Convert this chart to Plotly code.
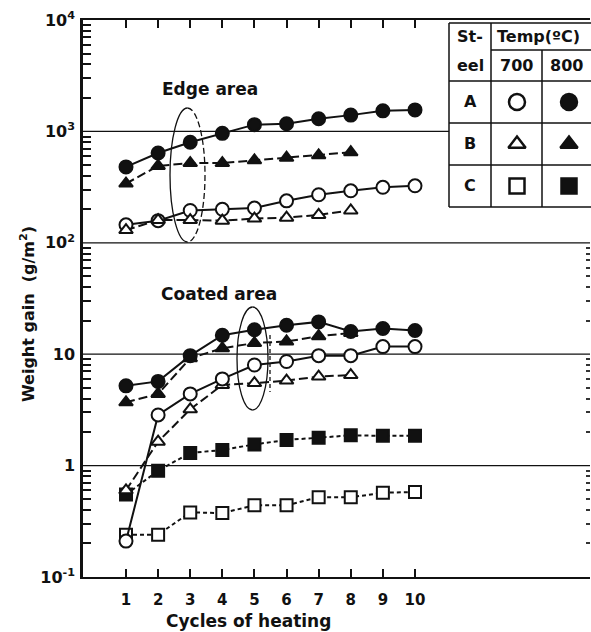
import plotly.graph_objects as go

# ---------------- data ----------------
cycles = list(range(1, 11))
cycles8 = list(range(1, 9))

edge_A700 = [145, 158, 195, 200, 205, 238, 270, 293, 315, 325]
edge_A800 = [480, 640, 800, 960, 1150, 1170, 1300, 1400, 1530, 1560]
edge_B700 = [130, 160, 160, 158, 165, 168, 178, 195]
edge_B800 = [340, 490, 520, 520, 550, 580, 610, 650]

coat_A700 = [0.21, 2.85, 4.4, 6.0, 8.0, 8.6, 9.7, 9.7, 11.7, 11.7]
coat_A800 = [5.2, 5.7, 9.7, 14.8, 16.6, 18.2, 19.5, 16.0, 17.0, 16.3]
coat_B700 = [0.6, 1.64, 3.2, 5.3, 5.5, 5.8, 6.3, 6.5]
coat_B800 = [3.7, 4.4, 9.2, 11.3, 12.6, 13.0, 14.5, 15.5]
coat_C700 = [0.24, 0.24, 0.38, 0.375, 0.44, 0.44, 0.52, 0.52, 0.57, 0.58]
coat_C800 = [0.55, 0.9, 1.3, 1.38, 1.55, 1.7, 1.78, 1.87, 1.85, 1.85]

y_tickvals = [0.1, 1, 10, 100, 1000, 10000]
y_ticktext = ["10<sup>-1</sup>", "1", "10", "10<sup>2</sup>", "10<sup>3</sup>", "10<sup>4</sup>"]
grid_vals = [1, 10, 100, 1000]
x_tickvals = cycles

steel_labels = ["A", "B", "C"]
temp_labels = ["700", "800"]

FONT = "DejaVu Sans"
BLACK = "#111111"

# plot area in pixels (for decorative overlay)
L, R, T, B = 83, 590, 20, 577
XR = [-0.339, 15.45]
YR = [-1, 4]

style = {"A": "solid", "B": "9px,4px", "C": "4px,3px"}
sym = {
    ("A", "700"): "circle", ("A", "800"): "circle",
    ("B", "700"): "triangle-up", ("B", "800"): "triangle-up",
    ("C", "700"): "square", ("C", "800"): "square",
}

series = [
    ("A", "700", cycles, edge_A700), ("A", "800", cycles, edge_A800),
    ("B", "700", cycles8, edge_B700), ("B", "800", cycles8, edge_B800),
    ("C", "800", cycles, coat_C800), ("C", "700", cycles, coat_C700),
    ("B", "700", cycles8, coat_B700), ("A", "700", cycles, coat_A700),
    ("B", "800", cycles8, coat_B800), ("A", "800", cycles, coat_A800),
]

fig = go.Figure()
for steel, temp, xs, ys in series:
    s = sym[(steel, temp)]
    fig.add_trace(go.Scatter(
        x=xs, y=ys, mode="lines+markers",
        line=dict(color=BLACK, width=2, dash=style[steel]),
        marker=dict(symbol=s, size=13 if s == "circle" else 12,
                    color="white" if temp == "700" else BLACK,
                    line=dict(color=BLACK, width=2)),
        showlegend=False, hoverinfo="skip",
    ))

# ---------------- legend table (pixel overlay axes) ----------------
row_y = [102, 144, 186]
col_x = [517, 569]
for i, steel in enumerate(steel_labels):
    for j, temp in enumerate(temp_labels):
        s = sym[(steel, temp)]
        fig.add_trace(go.Scatter(
            x=[col_x[j]], y=[row_y[i]], xaxis="x2", yaxis="y2", mode="markers",
            marker=dict(symbol=s, size=16 if s == "circle" else 15,
                        color="white" if temp == "700" else BLACK,
                        line=dict(color=BLACK, width=2.5)),
            showlegend=False, hoverinfo="skip"))

def px2p(px):
    return (px - L) / (R - L)

def py2p(py):
    return (B - py) / (B - T)

shapes = []
def ln(x0, y0, x1, y1, w=1.5, dash="solid"):
    shapes.append(dict(type="line", xref="paper", yref="paper",
                       x0=px2p(x0), y0=py2p(y0), x1=px2p(x1), y1=py2p(y1),
                       line=dict(color=BLACK, width=w, dash=dash), layer="above"))

# decade grid lines (the 10^3 one stops at the legend table)
TABLE_LEFT = 449
for v in grid_vals:
    x1 = px2p(TABLE_LEFT) if v == 1000 else 1.0
    shapes.append(dict(type="line", xref="paper", yref="y", x0=0, x1=x1,
                       y0=v, y1=v, line=dict(color=BLACK, width=1.2), layer="below"))

ln(449, 23, 600, 23)
ln(449, 23, 449, 207)
ln(449, 207, 600, 207)
ln(491, 23, 491, 207)
ln(542, 50, 542, 207)
ln(491, 50, 600, 50)
for yy in (81, 123, 165):
    ln(449, yy, 600, yy)

def half(cx, cy, rx, ry, side):
    k = 0.5523
    s = -1 if side == "left" else 1
    pts = [(cx, cy - ry), (cx + s * k * rx, cy - ry), (cx + s * rx, cy - k * ry), (cx + s * rx, cy),
           (cx + s * rx, cy + k * ry), (cx + s * k * rx, cy + ry), (cx, cy + ry)]
    p = [(px2p(a), py2p(b)) for a, b in pts]
    return (f"M {p[0][0]},{p[0][1]} C {p[1][0]},{p[1][1]} {p[2][0]},{p[2][1]} {p[3][0]},{p[3][1]} "
            f"C {p[4][0]},{p[4][1]} {p[5][0]},{p[5][1]} {p[6][0]},{p[6][1]}")

def ell(cx, cy, rx, ry, right_dash):
    shapes.append(dict(type="path", xref="paper", yref="paper", path=half(cx, cy, rx, ry, "left"),
                       line=dict(color=BLACK, width=1.3), layer="above"))
    shapes.append(dict(type="path", xref="paper", yref="paper", path=half(cx, cy, rx, ry, "right"),
                       line=dict(color=BLACK, width=1.3, dash=right_dash), layer="above"))

ell(187.5, 175, 17.5, 67, "6px,3px")
ell(252.5, 358.5, 15.5, 51.5, "solid")
ln(270, 335, 270, 392, w=1.3, dash="4px,3px")

ann = []
def txt(x, y, t, size=16, anchor="center", angle=0):
    ann.append(dict(x=px2p(x), y=py2p(y), xref="paper", yref="paper",
                    text=f"<b>{t}</b>", showarrow=False,
                    xanchor=anchor, yanchor="middle", textangle=angle,
                    font=dict(family=FONT, size=size, color=BLACK)))

txt(470, 37, "St-", 16)
txt(470, 66, "eel", 16)
txt(495, 37, "Temp(ºC)", 16, anchor="left")
txt(516, 66, temp_labels[0], 16)
txt(566, 66, temp_labels[1], 16)
for i, steel in enumerate(steel_labels):
    txt(470, row_y[i], steel, 16)

txt(210, 89, "Edge area", 17)
txt(219, 294, "Coated area", 17)
txt(248, 621, "Cycles of heating", 17)
txt(27, 314, "Weight gain  (g/m<sup>2</sup>)", 16, angle=-90)

minor_vals = [m * 10 ** e for e in range(-1, 4) for m in range(2, 10)]
minor_right = [v for v in minor_vals if v < 100]

fig.update_layout(
    width=591, height=632,
    margin=dict(l=L, r=591 - R, t=T, b=632 - B),
    paper_bgcolor="white", plot_bgcolor="white",
    font=dict(family=FONT, color=BLACK),
    xaxis=dict(range=XR, tickvals=x_tickvals,
               ticktext=[f"<b>{v}</b>" for v in x_tickvals],
               ticks="inside", ticklen=8,
               tickwidth=1.5, tickcolor=BLACK, showline=True, linewidth=2, linecolor=BLACK,
               mirror="ticks", showgrid=False, zeroline=False,
               tickfont=dict(size=15, family=FONT), ticklabelstandoff=8),
    yaxis=dict(type="log", range=YR, tickvals=y_tickvals,
               ticktext=[f"<b>{t}</b>" for t in y_ticktext],
               ticks="", showline=True, linewidth=2.5, linecolor=BLACK,
               showgrid=False,
               tickfont=dict(size=16, family=FONT), ticklabelstandoff=2,
               minor=dict(tickvals=minor_vals, ticks="inside", ticklen=8,
                          tickwidth=1.5, tickcolor=BLACK, showgrid=False)),
    yaxis3=dict(type="log", range=YR, overlaying="y", side="right", anchor="x",
                tickvals=minor_right, ticks="inside", ticklen=4, tickwidth=1.5,
                tickcolor="#333333", showticklabels=False, showgrid=False, showline=False),
    xaxis2=dict(range=[L, R], overlaying="x", visible=False, anchor="y2"),
    yaxis2=dict(range=[B, T], overlaying="y", visible=False, anchor="x2"),
    shapes=shapes, annotations=ann,
)
fig.add_trace(go.Scatter(x=[1], y=[1], yaxis="y3", mode="markers",
                         marker=dict(opacity=0), showlegend=False, hoverinfo="skip"))

fig.write_html("out.html", config={"displayModeBar": False},
               post_script="document.body.style.margin='0';document.body.style.overflow='hidden';")
